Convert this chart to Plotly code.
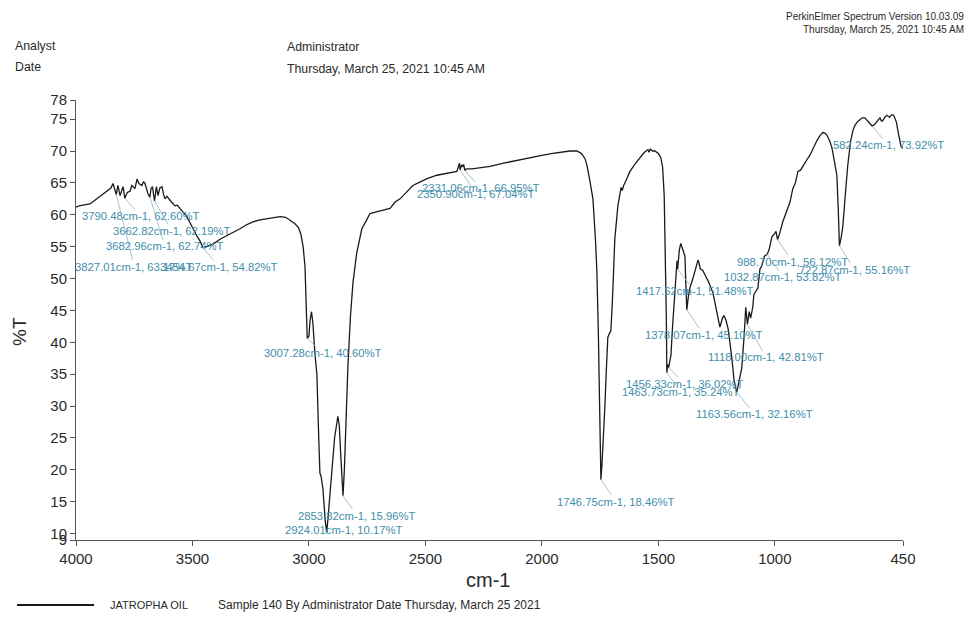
import plotly.graph_objects as go

# ---- Spectrum data (wavenumber cm-1, %T) ----
wavenumber = [
    4000, 3987, 3940, 3897, 3867, 3850, 3841, 3833, 3827.01, 3820, 3811, 3798, 3790.48, 3780,
    3768, 3760, 3747, 3738, 3730, 3717, 3710, 3704, 3691, 3682.96, 3678, 3672, 3662.82, 3655,
    3648, 3640, 3631, 3624, 3618, 3610, 3597, 3590, 3575, 3565, 3554, 3540, 3524, 3510, 3498,
    3480, 3468, 3454.67, 3440, 3412, 3380, 3352, 3320, 3296, 3270, 3240, 3210, 3180, 3150,
    3124, 3100, 3082, 3060, 3045, 3035, 3025, 3017, 3012, 3007.28, 3000, 2995, 2989, 2983,
    2975, 2966, 2958, 2953, 2948, 2940, 2930, 2924.01, 2918, 2905, 2890, 2876, 2870, 2863,
    2853.82, 2848, 2840, 2833, 2822, 2811, 2795, 2780, 2773, 2755, 2738, 2715, 2695, 2675,
    2652, 2630, 2609, 2580, 2554, 2520, 2490, 2451, 2400, 2365, 2358, 2354, 2350.90, 2345,
    2340, 2336, 2331.06, 2325, 2300, 2260, 2223, 2150, 2100, 2052, 2000, 1960, 1923, 1880,
    1850, 1830, 1815, 1807, 1795, 1781, 1770, 1764, 1758, 1751, 1746.75, 1742, 1736, 1730,
    1723, 1717, 1710, 1704, 1698, 1687, 1674, 1665, 1660, 1655, 1650, 1640, 1622, 1600, 1579,
    1560, 1545, 1540, 1535, 1525, 1515, 1500, 1490, 1482, 1475, 1470, 1466, 1463.73, 1460,
    1456.33, 1450, 1446, 1440, 1432, 1425, 1420, 1417.62, 1414, 1410, 1404, 1399, 1393, 1386,
    1382, 1378.07, 1372, 1365, 1352, 1340, 1330, 1326, 1320, 1310, 1300, 1285, 1266, 1250,
    1236, 1225, 1219, 1210, 1200, 1185, 1175, 1163.56, 1155, 1142, 1132, 1125, 1118.00, 1110,
    1104, 1095, 1090, 1073, 1064, 1056, 1045, 1032.87, 1025, 1013, 1000, 995, 988.70, 980,
    966, 955, 944, 935, 923, 912, 901, 890, 880, 870, 858, 850, 841, 830, 820, 805, 794, 785,
    777, 765, 755, 745, 734, 728, 722.87, 715, 708, 698, 687, 675, 665, 657, 645, 635, 625,
    614, 605, 592, 582.24, 571, 560, 549, 542, 536, 528, 519, 508, 498, 490, 485, 478, 472,
    465, 459, 455, 450,
]
transmittance = [
    61.2, 61.4, 61.7, 62.9, 63.7, 64.2, 64.9, 63.7, 63.17, 64.6, 63.0, 64.4, 62.60, 63.5,
    63.7, 64.6, 64.1, 65.6, 64.9, 64.6, 65.2, 64.9, 63.3, 62.74, 64.1, 64.4, 62.19, 64.4,
    63.0, 64.2, 64.4, 63.2, 62.5, 62.9, 62.2, 62.0, 61.4, 61.5, 61.0, 60.4, 59.7, 58.7, 57.8,
    56.6, 55.9, 54.82, 55.0, 55.4, 56.2, 56.7, 57.3, 57.8, 58.4, 58.9, 59.2, 59.4, 59.6,
    59.7, 59.6, 59.2, 58.6, 58.0, 57.0, 55.0, 51.9, 46.0, 40.60, 41.0, 43.5, 44.8, 43.0,
    38.5, 35.0, 25.0, 19.5, 19.0, 17.0, 12.0, 10.17, 12.5, 19.0, 25.0, 28.4, 27.0, 22.0,
    15.96, 20.0, 30.0, 36.0, 44.0, 49.4, 54.0, 57.0, 57.8, 59.0, 60.2, 60.4, 60.6, 60.7,
    61.0, 62.0, 62.5, 63.6, 64.6, 65.2, 65.7, 66.2, 66.6, 66.8, 67.6, 68.1, 67.04, 67.8,
    67.6, 67.9, 66.95, 67.2, 67.2, 67.4, 67.6, 68.2, 68.6, 68.9, 69.3, 69.6, 69.8, 70.0,
    70.0, 69.6, 68.8, 67.8, 65.5, 62.5, 56.0, 51.0, 42.0, 29.7, 18.46, 21.0, 25.0, 29.7,
    36.0, 40.8, 41.4, 41.8, 46.0, 56.2, 61.4, 63.0, 64.3, 63.8, 64.5, 65.3, 66.8, 68.0, 68.9,
    69.8, 70.2, 69.8, 70.3, 70.0, 70.0, 69.6, 69.0, 67.5, 63.0, 55.0, 44.0, 35.24, 36.5,
    36.02, 37.0, 38.0, 42.0, 47.0, 50.5, 52.8, 51.48, 53.0, 54.5, 55.5, 55.0, 54.5, 53.5,
    49.0, 45.10, 47.0, 48.5, 50.0, 51.5, 52.9, 52.5, 51.5, 51.3, 50.6, 49.5, 47.8, 45.0,
    42.4, 43.8, 44.2, 43.5, 42.0, 37.6, 34.0, 32.16, 33.5, 36.0, 41.0, 45.5, 42.81, 44.8,
    43.8, 45.5, 47.5, 48.5, 51.5, 52.0, 53.5, 53.82, 54.5, 56.5, 57.1, 57.4, 56.12, 57.0,
    58.9, 60.0, 61.4, 62.0, 64.1, 65.0, 66.8, 67.0, 67.6, 68.3, 68.9, 69.3, 70.0, 70.8, 71.6, 72.5, 72.9, 72.8,
    72.5, 71.6, 70.5, 68.5, 66.2, 61.0, 55.16, 56.5, 58.3, 63.0, 67.8, 71.5, 73.2, 74.0, 74.6, 74.9, 75.2,
    75.2, 74.8, 74.4, 73.92, 74.2, 74.8, 75.2, 74.7, 74.8, 75.3, 75.6, 75.3, 75.7, 75.6, 75.2, 74.5, 73.2,
    71.5, 70.8, 70.6, 70.5,
]

# ---- Peak labels ----
peak_wn = [3790.48, 3662.82, 3682.96, 3827.01, 3454.67, 3007.28, 2853.82, 2924.01,
           2331.06, 2350.90, 1746.75, 1417.62, 1378.07, 1118.00, 1456.33, 1463.73,
           1163.56, 988.70, 1032.87, 722.87, 582.24]
peak_t = [62.60, 62.19, 62.74, 63.17, 54.82, 40.60, 15.96, 10.17,
          66.95, 67.04, 18.46, 51.48, 45.10, 42.81, 36.02, 35.24,
          32.16, 56.12, 53.82, 55.16, 73.92]
# label offsets in pixels (dx, dy) from the peak
label_off = [(16, 18), (17, 30), (15, 49), (18, 72), (16, 19), (16, 15), (14, 20), (17, -3),
             (16, 18), (16, 24), (15, 22), (17, 22), (17, 25), (19, 33), (16, 16), (14, 19),
             (18, 22), (15, 22), (16, 23), (15, 24), (16, 19)]

x_ticks = [4000, 3500, 3000, 2500, 2000, 1500, 1000, 450]
y_ticks = [9, 10, 15, 20, 25, 30, 35, 40, 45, 50, 55, 60, 65, 70, 75, 78]

REG = "Liberation Sans, Arial, sans-serif"
TEAL = "#3f8eab"
DARK = "#2a2a2a"

# the page body adds an 8px offset; keep the figure inside the window (no scrollbars)
OFF = 8
W, H = 975 - 2 * OFF, 622 - 2 * OFF
ML, MT = 76 - OFF, 100 - OFF
MR = W - (903 - OFF)
MB = H - (540 - OFF)
PW, PH = W - ML - MR, H - MT - MB


def px(xp):
    """page pixel x -> paper x"""
    return (xp - OFF - ML) / PW


def py(yp):
    """page pixel y -> paper y"""
    return (H - MB - (yp - OFF)) / PH


fig = go.Figure()
fig.add_trace(go.Scatter(x=wavenumber, y=transmittance, mode="lines",
                         line=dict(color="#1a1a1a", width=1.3), showlegend=False,
                         hoverinfo="skip"))

annotations = []
for wn, t, (dx, dy) in zip(peak_wn, peak_t, label_off):
    annotations.append(dict(
        x=wn, y=t, xref="x", yref="y", ax=dx, ay=dy, axref="pixel", ayref="pixel",
        text=f"{wn:.2f}cm-1, {t:.2f}%T", showarrow=True, arrowhead=0, arrowwidth=0.8,
        arrowcolor="#8fb5c4", font=dict(family=REG, size=11.3, color=TEAL),
        bgcolor="rgba(0,0,0,0)", borderpad=0,
    ))


def txt(s, x, y, size, anchor="left", angle=0):
    return dict(text=s, x=px(x), y=py(y), xref="paper", yref="paper", showarrow=False,
                xanchor=anchor, yanchor="middle", textangle=angle, borderpad=0,
                font=dict(family=REG, size=size, color=DARK))


annotations += [
    txt("Analyst", 14, 46, 12.3),
    txt("Date", 14, 67, 12.3),
    txt("Administrator", 286, 47, 12.3),
    txt("Thursday, March 25, 2021 10:45 AM", 286, 69, 12.3),
    txt("PerkinElmer Spectrum Version 10.03.09", 965, 16, 10, anchor="right"),
    txt("Thursday, March 25, 2021 10:45 AM", 965, 30, 10, anchor="right"),
    txt("%T", 19, 331, 19, anchor="center", angle=-90),
    txt("cm-1", 488, 580, 20, anchor="center"),
    txt("JATROPHA OIL", 109, 605, 11),
    txt("Sample 140 By Administrator Date Thursday, March 25 2021", 217, 605, 12),
]

shapes = [dict(type="line", xref="paper", yref="paper", x0=px(17), x1=px(94),
               y0=py(605), y1=py(605), line=dict(color="#1a1a1a", width=2.2))]

fig.update_layout(
    width=W, height=H, margin=dict(l=ML, r=MR, t=MT, b=MB, autoexpand=False),
    paper_bgcolor="white", plot_bgcolor="white",
    annotations=annotations, shapes=shapes, showlegend=False,
    xaxis=dict(range=[4000, 450], tickvals=x_ticks, ticktext=[str(v) for v in x_ticks],
               showgrid=False, zeroline=False, showline=True, linecolor="#555", linewidth=1,
               ticks="outside", ticklen=5, tickcolor="#555", mirror=False,
               tickfont=dict(family=REG, size=15, color=DARK)),
    yaxis=dict(range=[9, 78], tickvals=y_ticks, ticktext=[str(v) for v in y_ticks],
               showgrid=False, zeroline=False, showline=True, linecolor="#555", linewidth=1,
               ticks="outside", ticklen=5, tickcolor="#555", mirror=False,
               tickfont=dict(family=REG, size=15, color=DARK)),
)

fig.write_html("out.html")
